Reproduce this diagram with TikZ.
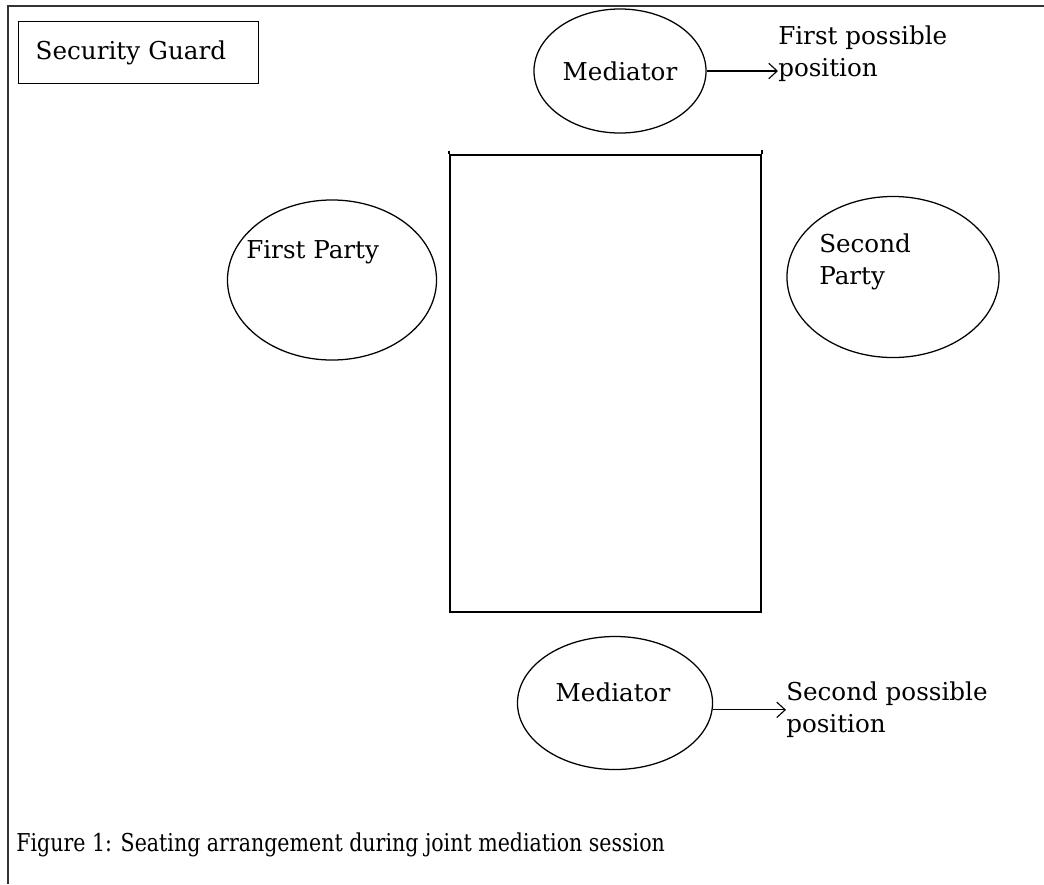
\documentclass[tikz,border=0pt]{standalone}
\usepackage{fontspec}
\setmainfont{DejaVu Serif}
\newfontfamily\capfont[FakeStretch=0.835]{DejaVu Serif}
\usepackage{tikz}
\usetikzlibrary{arrows.meta,shapes.geometric,positioning}
\newcommand{\SeatFont}{\fontsize{17.5}{22.5}\selectfont}
\tikzset{
  wall/.style={line width=1.1pt, black!80},
  seat/.style={ellipse, draw, line width=0.9pt, inner sep=0pt},      % chairs round the table
  tablebox/.style={draw, line width=1.2pt, inner sep=0pt},
  guardbox/.style={draw, line width=1pt, inner xsep=0.425cm, align=left},
  tag/.style={inner sep=0pt, font=\SeatFont, align=left},
  pointer/.style={-{Straight Barb[length=6pt,width=11pt]}, line width=0.8pt}
}

\begin{document}
\begin{tikzpicture}[x=0.025cm, y=-0.025cm]
  \useasboundingbox (0,0) rectangle (1044,884);
  % room walls
  \draw[wall] (8,884) -- (8,6) -- (1044,6);
  \node[guardbox, font=\SeatFont, anchor=north west, minimum width=6cm,
        minimum height=1.55cm, text width=5.15cm] (guard) at (18,21) {Security Guard};
  % table and seats
  \node[tablebox, minimum width=7.775cm, minimum height=11.425cm] (table) at (605.5,383.5) {};
  \draw[tablebox] (table.north west) -- ++(0,-3);
  \draw[tablebox] (table.north east) -- ++(0,-4);
  \node[seat, minimum width=4.3cm, minimum height=3.1cm] (medtop) at (620,71) {};
  \node[seat, minimum width=5.225cm, minimum height=4cm] (firstparty) at (332,280) {};
  \node[seat, minimum width=5.3cm, minimum height=4.025cm] (secondparty) at (893,277) {};
  \node[seat, minimum width=4.875cm, minimum height=3.325cm] (medbot) at (615,703) {};
  % texts
  \node[tag] (medtoptext) at (620,71) {Mediator};
  \node[tag] (medbottext) at (613,692) {Mediator};
  \node[tag, anchor=base west] (fptext) at (246,258) {First Party};
  \node[tag, anchor=north west] (sptext) at (819,234) {Second\\Party};
  \node[tag, anchor=north west] (postop) at (778,26) {First possible\\position};
  \node[tag, anchor=north west] (posbot) at (786,682) {Second possible\\position};
  \node[inner sep=0pt, anchor=base west, font=\capfont\fontsize{17.5}{22}\selectfont] (caption)
    at (16,851) {Figure 1: Seating arrangement during joint mediation session};
  % the two places for the mediator
  \draw[pointer] (medtop.east) -- (medtop.east -| postop.west);
  \draw[pointer] (medbot.-4) -- (medbot.-4 -| posbot.west);
\end{tikzpicture}
\end{document}
